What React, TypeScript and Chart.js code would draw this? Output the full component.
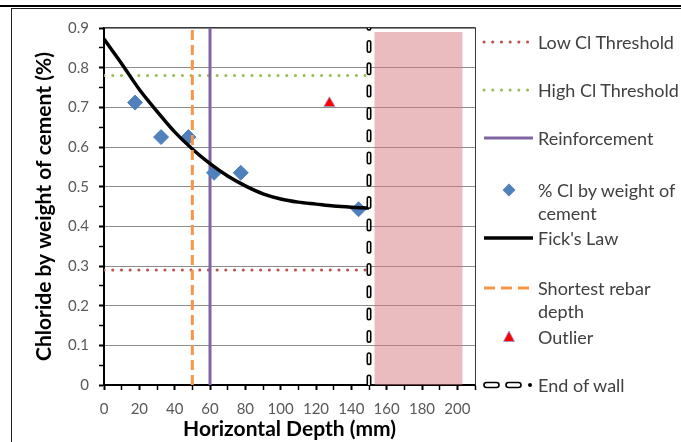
import React, { useEffect, useRef } from 'react';
import { Chart, registerables } from 'chart.js';

Chart.register(...registerables);

// ---- data ----
const sampleDepth = [17.6, 32.3, 47.8, 62.3, 77.4, 144.1];
const sampleCl = [0.712, 0.625, 0.625, 0.535, 0.535, 0.443];
const outlierDepth = [127.6];
const outlierCl = [0.71];
const fickDepth = [0, 10, 20, 30, 40, 50, 60, 70, 80, 90, 100, 110, 120, 130, 140, 150];
const fickCl = [0.872, 0.81, 0.745, 0.69, 0.638, 0.595, 0.558, 0.527, 0.502, 0.482, 0.469, 0.461, 0.456, 0.451, 0.448, 0.446];
const thresholdDepth = [0, 150];
const lowThreshold = 0.29;
const highThreshold = 0.78;
const verticalCl = [0, 0.9];
const reinforcementDepth = 60;
const shortestRebarDepth = 50;
const endOfWallDepth = 150;
const beyondWallDepth = [153, 203];
const beyondWallCl = 0.89;
const xMin = 0;
const xMax = 210;
const xLabelStep = 20;
const xLabelMax = 200;
const yMin = 0;
const yMax = 0.9;
const yLabelStep = 0.1;

const legendLabels = [
  ['Low Cl Threshold'],
  ['High Cl Threshold'],
  ['Reinforcement'],
  ['% Cl by weight of', 'cement'],
  ["Fick's Law"],
  ['Shortest rebar', 'depth'],
  ['Outlier'],
  ['End of wall'],
];

const COLORS = {
  low: '#c0504d',
  high: '#9bbb59',
  reinf: '#8064a2',
  sample: '#4f81bd',
  fick: '#000000',
  rebar: '#f79646',
  outlier: '#ff0000',
};

const FONT = 'Lato, "Open Sans", sans-serif';

const pts = (xs: number[], ys: number[]) => xs.map((x, i) => ({ x, y: ys[i] }));

const plotBorder = {
  id: 'plotBorder',
  beforeDatasetsDraw(chart: any) {
    const { ctx, chartArea } = chart;
    ctx.save();
    ctx.strokeStyle = '#3a3a3a';
    ctx.lineWidth = 1;
    ctx.beginPath();
    ctx.moveTo(chartArea.left, chartArea.top - 0.5);
    ctx.lineTo(chartArea.right + 0.5, chartArea.top - 0.5);
    ctx.lineTo(chartArea.right + 0.5, chartArea.bottom);
    ctx.stroke();
    ctx.restore();
  },
};

const isMultiple = (v: number, step: number) => Math.abs(v / step - Math.round(v / step)) < 1e-6;

function ChartCanvas() {
  const ref = useRef<HTMLCanvasElement | null>(null);
  useEffect(() => {
    if (!ref.current) return;
    const lineBase = { type: 'line', pointRadius: 0, pointHoverRadius: 0, fill: false, tension: 0 };
    const chart = new Chart(ref.current, {
      type: 'line',
      data: {
        datasets: [
          {
            ...lineBase,
            label: 'beyond',
            data: pts(beyondWallDepth, beyondWallDepth.map(() => beyondWallCl)),
            borderWidth: 0,
            borderColor: 'rgba(0,0,0,0)',
            backgroundColor: 'rgba(214,122,128,0.5)',
            fill: 'origin',
            order: 10,
          },
          {
            ...lineBase,
            label: legendLabels[0].join(' '),
            data: pts(thresholdDepth, thresholdDepth.map(() => lowThreshold)),
            borderColor: COLORS.low,
            borderWidth: 3,
            borderDash: [0.1, 8.6],
            borderCapStyle: 'round',
            order: 9,
          },
          {
            ...lineBase,
            label: legendLabels[1].join(' '),
            data: pts(thresholdDepth, thresholdDepth.map(() => highThreshold)),
            borderColor: COLORS.high,
            borderWidth: 3,
            borderDash: [0.1, 8.6],
            borderCapStyle: 'round',
            order: 8,
          },
          {
            ...lineBase,
            label: legendLabels[2].join(' '),
            data: pts(verticalCl.map(() => reinforcementDepth), verticalCl),
            borderColor: COLORS.reinf,
            borderWidth: 3,
            order: 7,
          },
          {
            type: 'line',
            label: legendLabels[3].join(' '),
            data: pts(sampleDepth, sampleCl),
            showLine: false,
            pointStyle: 'rectRot',
            pointRadius: 7.5,
            pointBackgroundColor: COLORS.sample,
            pointBorderColor: COLORS.sample,
            pointBorderWidth: 1,
            order: 6,
          },
          {
            ...lineBase,
            label: legendLabels[4].join(' '),
            data: pts(fickDepth, fickCl),
            borderColor: COLORS.fick,
            borderWidth: 3.5,
            cubicInterpolationMode: 'monotone',
            order: 5,
          },
          {
            ...lineBase,
            label: legendLabels[5].join(' '),
            data: pts(verticalCl.map(() => shortestRebarDepth), verticalCl),
            borderColor: COLORS.rebar,
            borderWidth: 3,
            borderDash: [10, 5],
            order: 4,
          },
          {
            type: 'line',
            label: legendLabels[6].join(' '),
            data: pts(outlierDepth, outlierCl),
            showLine: false,
            pointStyle: 'triangle',
            pointRadius: 6.5,
            pointBackgroundColor: COLORS.outlier,
            pointBorderColor: 'rgba(150,150,210,0.8)',
            pointBorderWidth: 1,
            order: 3,
          },
          {
            ...lineBase,
            label: legendLabels[7].join(' '),
            data: pts(verticalCl.map(() => endOfWallDepth), verticalCl),
            borderColor: '#000000',
            borderWidth: 5,
            borderDash: [8, 14.3],
            borderCapStyle: 'round',
            order: 2,
          },
          {
            ...lineBase,
            label: 'wall-inner',
            data: pts(verticalCl.map(() => endOfWallDepth), verticalCl),
            borderColor: '#ffffff',
            borderWidth: 1.8,
            borderDash: [8, 14.3],
            borderCapStyle: 'round',
            order: 1,
          },
        ] as any,
      },
      plugins: [plotBorder],
      options: {
        responsive: false,
        animation: false,
        devicePixelRatio: 1,
        events: [],
        layout: { padding: { left: 28, right: 206, top: 28, bottom: 0 } },
        plugins: {
          legend: { display: false },
          tooltip: { enabled: false },
          title: { display: false },
        },
        scales: {
          x: {
            type: 'linear',
            min: xMin,
            max: xMax,
            afterFit: (s: any) => {
              s.height = 57;
            },
            ticks: {
              stepSize: 10,
              autoSkip: false,
              maxRotation: 0,
              padding: 10,
              color: '#595959',
              font: { family: FONT, size: 15 },
              callback: (v: any) => (isMultiple(Number(v), xLabelStep) && Number(v) <= xLabelMax ? String(v) : ''),
            },
            grid: {
              drawOnChartArea: false,
              drawTicks: true,
              tickLength: 5,
              tickColor: '#000000',
              tickWidth: (c: any) => (c.tick && isMultiple(c.tick.value, xLabelStep) ? 2 : 1.5),
            },
            border: { display: true, color: '#000000', width: 2 },
            title: {
              display: true,
              text: 'Horizontal Depth (mm)',
              color: '#000000',
              font: { family: FONT, size: 21, weight: 'bold' },
              padding: { top: 0, bottom: 0 },
            },
          },
          y: {
            type: 'linear',
            min: yMin,
            max: yMax,
            afterFit: (s: any) => {
              s.width = 76;
            },
            ticks: {
              stepSize: 0.05,
              autoSkip: false,
              padding: 10,
              color: '#595959',
              font: { family: FONT, size: 15 },
              callback: (v: any) => {
                const n = Number(v);
                if (!isMultiple(n, yLabelStep)) return '';
                return n === 0 ? '0' : n.toFixed(1);
              },
            },
            grid: {
              drawTicks: true,
              tickLength: 5,
              tickColor: '#000000',
              tickWidth: (c: any) => (c.tick && isMultiple(c.tick.value, yLabelStep) ? 2 : 1.5),
              color: (c: any) => (c.tick && isMultiple(c.tick.value, yLabelStep) ? '#8c8c8c' : 'rgba(0,0,0,0)'),
              lineWidth: 1,
            },
            border: { display: true, color: '#000000', width: 2 },
            title: {
              display: true,
              text: 'Chloride by weight of cement (%)',
              color: '#000000',
              font: { family: FONT, size: 21, weight: 'bold' },
              padding: { top: 4, bottom: 4 },
            },
          },
        },
      } as any,
    });
    return () => chart.destroy();
  }, []);
  return <canvas ref={ref} width={681} height={442} style={{ position: 'absolute', left: 0, top: 0, width: 681, height: 442 }} />;
}

const legendRows = [
  { y: 42, sym: 'low' },
  { y: 90, sym: 'high' },
  { y: 138, sym: 'reinf' },
  { y: 190, sym: 'sample' },
  { y: 238, sym: 'fick' },
  { y: 288, sym: 'rebar' },
  { y: 337, sym: 'outlier' },
  { y: 385, sym: 'wall' },
];

function LegendSymbol({ sym, y }: { sym: string; y: number }) {
  const x1 = 484;
  const x2 = 531;
  const cx = 509;
  switch (sym) {
    case 'low':
      return <line x1={x1} x2={x2} y1={y} y2={y} stroke={COLORS.low} strokeWidth={3} strokeDasharray="0.1 8.6" strokeLinecap="round" />;
    case 'high':
      return <line x1={x1} x2={x2} y1={y} y2={y} stroke={COLORS.high} strokeWidth={3} strokeDasharray="0.1 8.6" strokeLinecap="round" />;
    case 'reinf':
      return <line x1={x1} x2={x2 + 2} y1={y} y2={y} stroke={COLORS.reinf} strokeWidth={3} />;
    case 'sample':
      return <polygon points={`${cx},${y - 6.5} ${cx + 6.5},${y} ${cx},${y + 6.5} ${cx - 6.5},${y}`} fill={COLORS.sample} />;
    case 'fick':
      return <line x1={x1} x2={x2 + 2} y1={y} y2={y} stroke={COLORS.fick} strokeWidth={3.5} />;
    case 'rebar':
      return <line x1={x1} x2={x2} y1={y} y2={y} stroke={COLORS.rebar} strokeWidth={3} strokeDasharray="11 6" />;
    case 'outlier':
      return (
        <polygon
          points={`${cx},${y - 6} ${cx + 5.5},${y + 4.5} ${cx - 5.5},${y + 4.5}`}
          fill={COLORS.outlier}
          stroke="rgba(150,150,210,0.8)"
          strokeWidth={1}
        />
      );
    case 'wall':
      return (
        <g>
          <rect x={x1} y={y - 2.5} width={15} height={5} rx={2.5} fill="#fff" stroke="#000" strokeWidth={1.6} />
          <rect x={x1 + 22} y={y - 2.5} width={15} height={5} rx={2.5} fill="#fff" stroke="#000" strokeWidth={1.6} />
          <circle cx={x2 - 1} cy={y} r={2} fill="#000" />
        </g>
      );
    default:
      return null;
  }
}

function Legend() {
  return (
    <>
      <svg width={681} height={442} style={{ position: 'absolute', left: 0, top: 0, pointerEvents: 'none' }}>
        {legendRows.map((r) => (
          <LegendSymbol key={r.sym} sym={r.sym} y={r.y} />
        ))}
      </svg>
      {legendRows.map((r, i) => (
        <div
          key={r.sym}
          style={{
            position: 'absolute',
            left: 538,
            top: r.y - 11.5,
            fontFamily: FONT,
            fontSize: 18,
            lineHeight: '23px',
            color: '#404040',
            whiteSpace: 'nowrap',
          }}
        >
          {legendLabels[i].map((t, j) => (
            <div key={j}>{t}</div>
          ))}
        </div>
      ))}
    </>
  );
}

export default function App() {
  return (
    <div style={{ position: 'absolute', left: 0, top: 0, width: 681, height: 442, background: '#fff', overflow: 'hidden' }}>
      <div style={{ position: 'absolute', left: 0, top: 5, width: 681, height: 2, background: '#000' }} />
      <div
        style={{
          position: 'absolute',
          left: 11,
          top: 8,
          width: 700,
          height: 460,
          borderLeft: '1px solid #222',
          borderTop: '1px solid #222',
        }}
      />
      <ChartCanvas />
      <Legend />
    </div>
  );
}
